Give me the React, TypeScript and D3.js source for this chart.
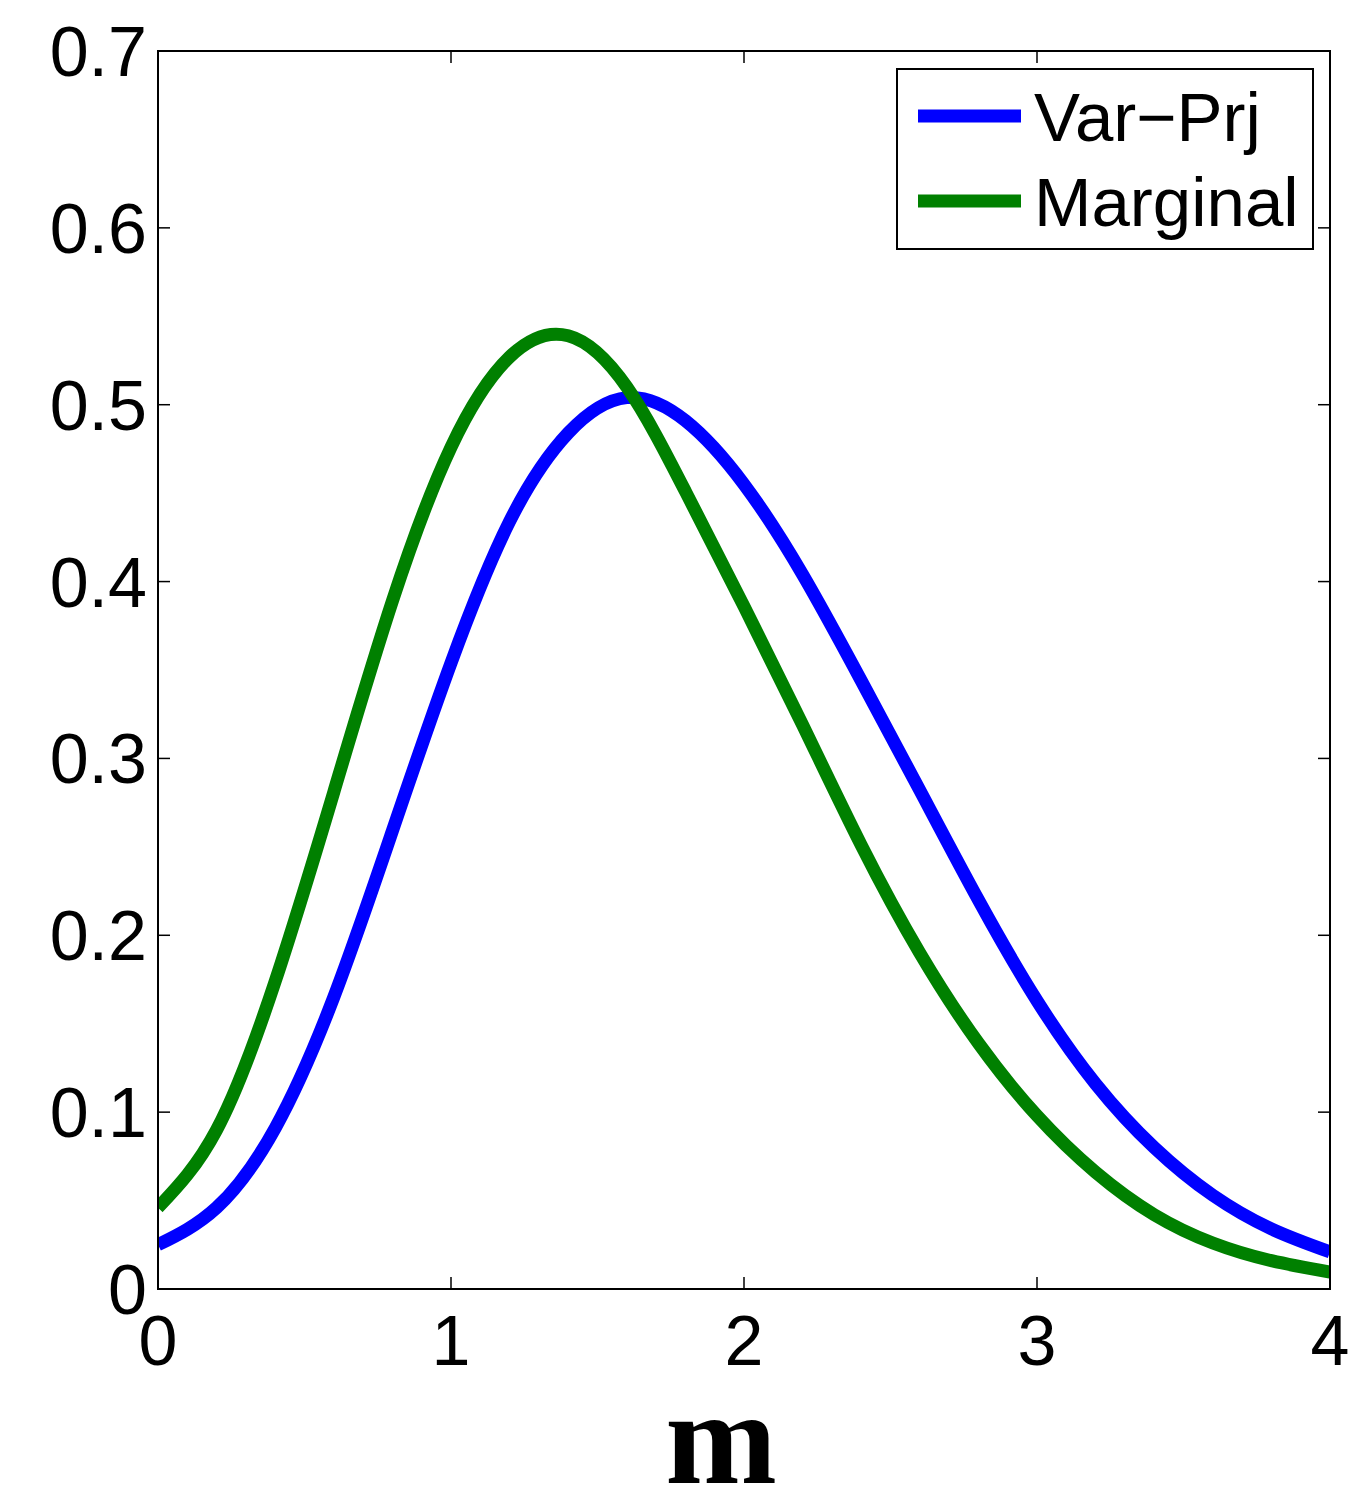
import React from "react";
import * as d3 from "d3";

const mValues = [0, 0.2, 0.4, 0.6, 0.8, 1.0, 1.2, 1.4, 1.6, 1.8, 2.0, 2.2, 2.4, 2.6, 2.8, 3.0, 3.2, 3.4, 3.6, 3.8, 4.0];
const varPrj = [0.025, 0.046, 0.091, 0.165, 0.259, 0.354, 0.434, 0.484, 0.504, 0.491, 0.455, 0.404, 0.344, 0.282, 0.220, 0.163, 0.116, 0.080, 0.053, 0.034, 0.021];
const marginal = [0.046, 0.090, 0.174, 0.281, 0.389, 0.476, 0.527, 0.539, 0.510, 0.451, 0.386, 0.319, 0.251, 0.190, 0.139, 0.098, 0.066, 0.042, 0.026, 0.016, 0.0096];
const xTicks = [0, 1, 2, 3, 4];
const yTicks = [0, 0.1, 0.2, 0.3, 0.4, 0.5, 0.6, 0.7];
const seriesNames = ["Var\u2212Prj", "Marginal"];
const seriesColors = ["#0000ff", "#008000"];

const W = 1359, H = 1493;
const L = 158, R = 1330, T = 51, B = 1289;

export default function App() {
  const x = d3.scaleLinear().domain([0, 4]).range([L, R]);
  const y = d3.scaleLinear().domain([0, 0.7]).range([B, T]);
  const line = d3
    .line<number>()
    .x((_, i) => x(mValues[i]))
    .y((d) => y(d))
    .curve(d3.curveNatural);
  const series = [varPrj, marginal];
  const font = "'Liberation Sans', Arial, Helvetica, sans-serif";
  const tickLen = 12;
  return (
    <svg width={W} height={H} style={{ position: "absolute", left: 0, top: 0, background: "#fff" }}>
      <rect x={0} y={0} width={W} height={H} fill="#fff" />
      <defs>
        <clipPath id="plotclip">
          <rect x={L} y={T} width={R - L} height={B - T} />
        </clipPath>
      </defs>
      {xTicks.map((t) => (
        <g key={"xt" + t}>
          <line x1={x(t)} x2={x(t)} y1={B} y2={B - tickLen} stroke="#000" strokeWidth={1.5} />
          <line x1={x(t)} x2={x(t)} y1={T} y2={T + tickLen} stroke="#000" strokeWidth={1.5} />
          <text x={x(t)} y={1365} textAnchor="middle" fontFamily={font} fontSize={70} fill="#000">
            {t}
          </text>
        </g>
      ))}
      {yTicks.map((t) => (
        <g key={"yt" + t}>
          <line x1={L} x2={L + tickLen} y1={y(t)} y2={y(t)} stroke="#000" strokeWidth={1.5} />
          <line x1={R} x2={R - tickLen} y1={y(t)} y2={y(t)} stroke="#000" strokeWidth={1.5} />
          <text x={147} y={y(t) + 25} textAnchor="end" fontFamily={font} fontSize={70} fill="#000">
            {t === 0 ? "0" : t.toFixed(1)}
          </text>
        </g>
      ))}
      <g clipPath="url(#plotclip)">
        {series.map((s, i) => (
          <path key={i} d={line(s) || ""} fill="none" stroke={seriesColors[i]} strokeWidth={13} />
        ))}
      </g>
      <rect x={L} y={T} width={R - L} height={B - T} fill="none" stroke="#000" strokeWidth={2} />
      <rect x={897} y={69} width={416} height={180} fill="#fff" stroke="#000" strokeWidth={2} />
      {seriesNames.map((n, i) => (
        <g key={n}>
          <line x1={918} x2={1021} y1={116 + i * 85} y2={116 + i * 85} stroke={seriesColors[i]} strokeWidth={13} />
          <text x={1034} y={141 + i * 85} fontFamily={font} fontSize={69} fill="#000">
            {n}
          </text>
        </g>
      ))}
      <text x={721} y={1483} textAnchor="middle" fontFamily="'Liberation Serif', 'Times New Roman', serif" fontWeight="bold" fontSize={134} fill="#000">
        m
      </text>
    </svg>
  );
}
